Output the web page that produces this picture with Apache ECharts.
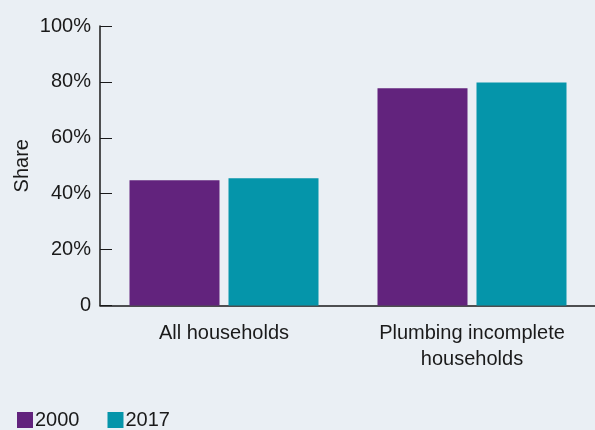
<!DOCTYPE html>
<html><head><meta charset="utf-8">
<script src="https://cdn.jsdelivr.net/npm/echarts@6/dist/echarts.min.js"></script>
<style>html,body{margin:0;padding:0;background:#EAEFF4;}#c{width:595px;height:430px;}</style>
</head><body><div id="c"></div>
<script>
const categories = ['All households', 'Plumbing incomplete\nhouseholds'];
const seriesNames = ['2000', '2017'];
const values2000 = [44.8, 77.7];
const values2017 = [45.5, 79.8];
const yTicks = [0, 20, 40, 60, 80, 100];

const FONT = '"Liberation Sans", Arial, sans-serif';
const chart = echarts.init(document.getElementById('c'), null, {renderer: 'canvas'});
chart.setOption({
  backgroundColor: '#EAEFF4',
  animation: false,
  textStyle: {fontFamily: FONT},
  grid: {left: 100, right: -1, top: 26, bottom: 124.5, containLabel: false, outerBoundsMode: 'none'},
  legend: {
    data: seriesNames, left: 12, top: 405, itemWidth: 16, itemHeight: 16, itemGap: 28,
    icon: 'rect',
    textStyle: {fontFamily: FONT, fontSize: 20, color: '#1a1a1a', padding: [0,0,0,-3]}
  },
  xAxis: {
    type: 'category', data: categories,
    axisLine: {lineStyle: {color: '#1a1a1a', width: 1.5}},
    axisTick: {inside: true, length: 6, lineStyle: {color: '#1a1a1a'}},
    axisLabel: {fontFamily: FONT, fontSize: 20, color: '#1a1a1a', lineHeight: 26, margin: 15}
  },
  yAxis: {
    type: 'value', min: 0, max: 100, interval: 20,
    name: 'Share', nameLocation: 'middle', nameGap: 68, nameRotate: 90, nameMoveOverlap: false,
    nameTextStyle: {fontFamily: FONT, fontSize: 20, color: '#1a1a1a'},
    axisLine: {show: true, lineStyle: {color: '#1a1a1a', width: 1.5}},
    axisTick: {show: true, inside: true, length: 12, lineStyle: {color: '#1a1a1a'}},
    splitLine: {show: false},
    axisLabel: {fontFamily: FONT, fontSize: 20, color: '#1a1a1a', margin: 9,
      formatter: v => yTicks.includes(v) ? (v === 0 ? '0' : v + '%') : ''}
  },
  series: [
    {name: seriesNames[0], type: 'bar', data: values2000, barWidth: 90, barGap: '10%', itemStyle: {color: '#62237D'}},
    {name: seriesNames[1], type: 'bar', data: values2017, barWidth: 90, barGap: '10%', itemStyle: {color: '#0595AA'}}
  ]
});
</script></body></html>
